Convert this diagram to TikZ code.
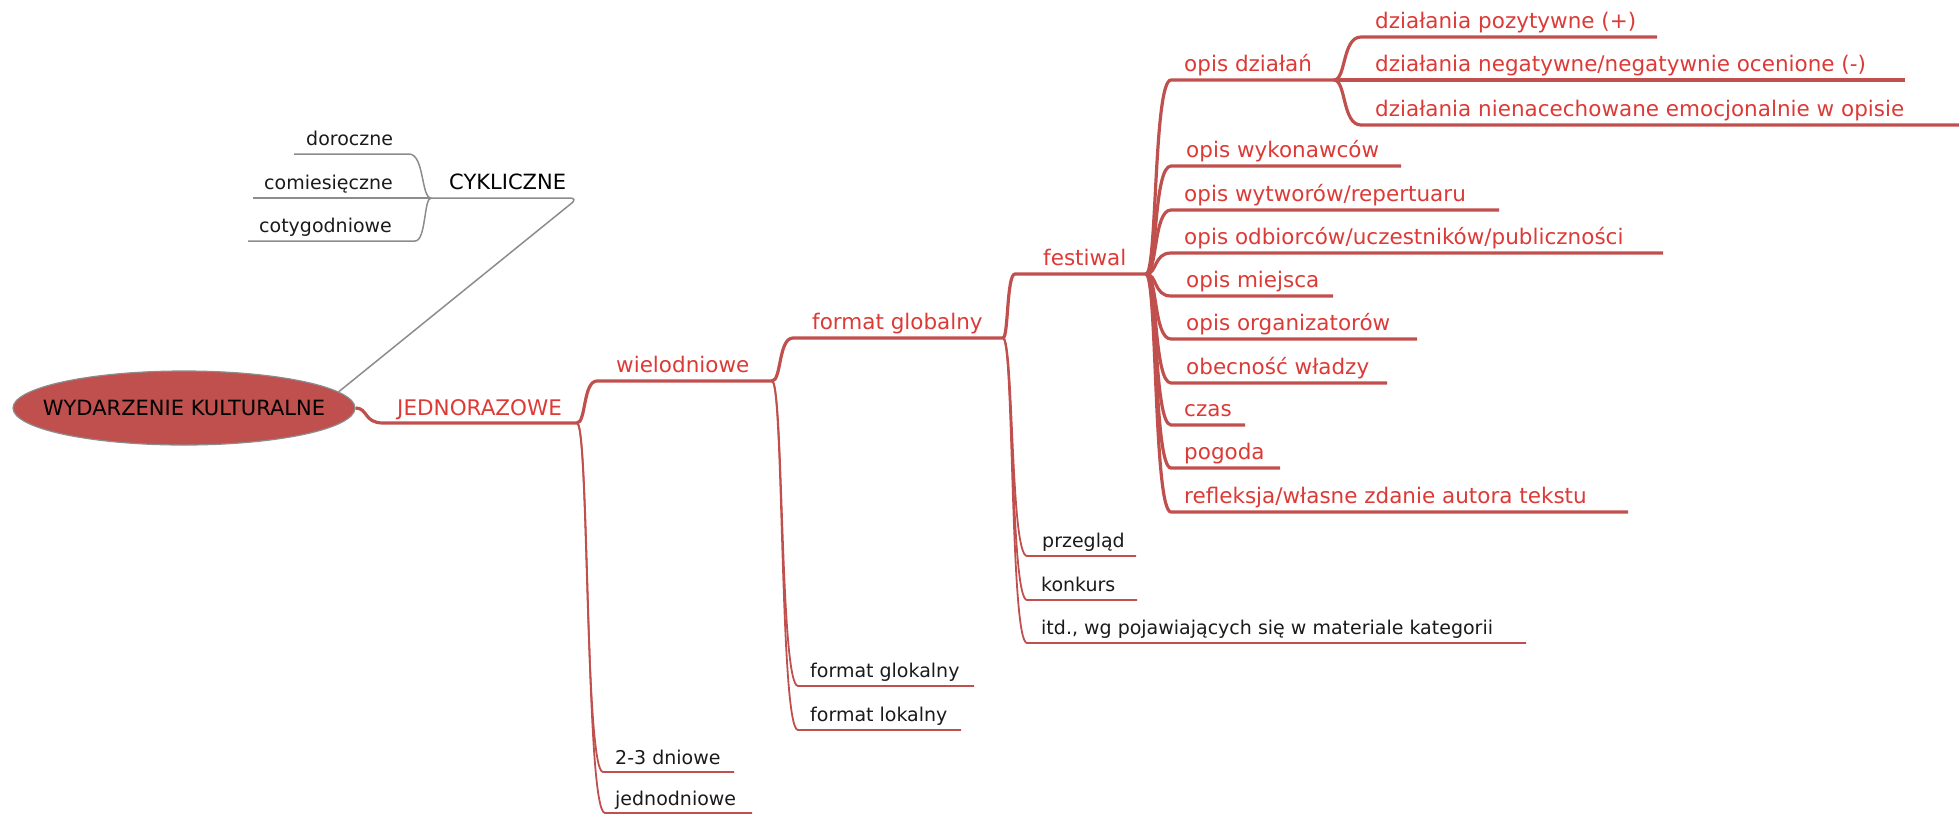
\documentclass[tikz,border=0pt]{standalone}
\usepackage{fontspec}
\setmainfont{DejaVu Sans}
\usetikzlibrary{calc,shapes.geometric}
\definecolor{lred}{HTML}{C0504D}
\definecolor{tred}{HTML}{DC3A36}
\definecolor{lgray}{HTML}{8C8C8C}
\definecolor{tblack}{HTML}{1A1A1A}
\tikzset{
  bigtxt/.style={font=\fontsize{21.5}{26}\selectfont, anchor=base west, inner sep=0pt, text=tred},
  smalltxt/.style={font=\fontsize{19}{23}\selectfont, anchor=base west, inner sep=0pt, text=tblack},
  redthick/.style={draw=lred, line width=3.2pt},
  redthin/.style={draw=lred, line width=1.8pt},
  grayline/.style={draw=lgray, line width=1.5pt},
}
\newcommand\branch[4]{\draw[#1] (#2) .. controls ($(#2)!0.45!(#2 -| #3)$) and ($(#2 |- #3)!0.3!(#3)$) .. (#3) -- (#4);}
\begin{document}
\begin{tikzpicture}[x=1pt,y=-1pt]
\useasboundingbox (0,0) rectangle (1959,815);
% root
\node[ellipse, fill=lred, draw=lgray, line width=1.2pt, minimum width=342pt, minimum height=74pt, inner sep=0pt] (root) at (184,408) {};
\node[font=\fontsize{21}{25}\selectfont, text=black, inner sep=0pt] (rootlbl) at (root.center) {WYDARZENIE KULTURALNE};

% CYKLICZNE branch
\node[bigtxt, text=black, font=\fontsize{21}{25}\selectfont] (cyk) at (449,189) {CYKLICZNE};
\coordinate (cykJ) at (431,198); \coordinate (cykE) at (578,198);
\draw[grayline, rounded corners=8pt] (cykJ) -- (cykE) -- (root.6);
\node[smalltxt] (dor) at (306,145) {doroczne};
\coordinate (dorS) at (294,154); \coordinate (dorE) at (409,154);
\node[smalltxt] (com) at (264,189) {comiesięczne};
\coordinate (comS) at (253,198);
\node[smalltxt] (cot) at (259,232) {cotygodniowe};
\coordinate (cotS) at (248,241); \coordinate (cotE) at (415,241);
\branch{grayline}{cykJ}{dorE}{dorS}
\draw[grayline] (cykJ) -- (comS);
\branch{grayline}{cykJ}{cotE}{cotS}

% JEDNORAZOWE
\node[bigtxt] (jed) at (397,415) {JEDNORAZOWE};
\coordinate (jedS) at (383,423); \coordinate (jedJ) at (577,423);
\branch{redthick}{root.east}{jedS}{jedJ}

\node[bigtxt] (wie) at (616,372) {wielodniowe};
\coordinate (wieS) at (597,381); \coordinate (wieJ) at (772,381);
\node[smalltxt] (dw) at (615,764) {2-3 dniowe};
\coordinate (dwS) at (603,772); \coordinate (dwE) at (734,772);
\node[smalltxt] (jd) at (615,805) {jednodniowe};
\coordinate (jdS) at (605,813); \coordinate (jdE) at (752,813);
\branch{redthick}{jedJ}{wieS}{wieJ}
\branch{redthin}{jedJ}{dwS}{dwE}
\branch{redthin}{jedJ}{jdS}{jdE}

\node[bigtxt] (fg) at (812,329) {format globalny};
\coordinate (fgS) at (793,338); \coordinate (fgJ) at (1003,338);
\node[smalltxt] (fgk) at (810,677) {format glokalny};
\coordinate (fgkS) at (798,686); \coordinate (fgkE) at (974,686);
\node[smalltxt] (fl) at (810,721) {format lokalny};
\coordinate (flS) at (798,730); \coordinate (flE) at (961,730);
\branch{redthick}{wieJ}{fgS}{fgJ}
\branch{redthin}{wieJ}{fgkS}{fgkE}
\branch{redthin}{wieJ}{flS}{flE}

\node[bigtxt] (fes) at (1043,265) {festiwal};
\coordinate (fesS) at (1015,274); \coordinate (fesJ) at (1146,274);
\node[smalltxt] (prz) at (1042,547) {przegląd};
\coordinate (przS) at (1027,556); \coordinate (przE) at (1136,556);
\node[smalltxt] (kon) at (1041,591) {konkurs};
\coordinate (konS) at (1027,600); \coordinate (konE) at (1137,600);
\node[smalltxt] (itd) at (1041,634) {itd., wg pojawiających się w materiale kategorii};
\coordinate (itdS) at (1027,643); \coordinate (itdE) at (1526,643);
\branch{redthick}{fgJ}{fesS}{fesJ}
\branch{redthin}{fgJ}{przS}{przE}
\branch{redthin}{fgJ}{konS}{konE}
\branch{redthin}{fgJ}{itdS}{itdE}

% festiwal children
\node[bigtxt] (od) at (1184,71) {opis działań};
\coordinate (odS) at (1171,80); \coordinate (odJ) at (1334,80);
\node[bigtxt] (ow) at (1186,157) {opis wykonawców};
\coordinate (owS) at (1171,166); \coordinate (owE) at (1401,166);
\node[bigtxt] (owr) at (1184,201) {opis wytworów/repertuaru};
\coordinate (owrS) at (1171,210); \coordinate (owrE) at (1499,210);
\node[bigtxt] (oo) at (1184,244) {opis odbiorców/uczestników/publiczności};
\coordinate (ooS) at (1171,253); \coordinate (ooE) at (1663,253);
\node[bigtxt] (om) at (1186,287) {opis miejsca};
\coordinate (omS) at (1171,296); \coordinate (omE) at (1333,296);
\node[bigtxt] (oorg) at (1186,330) {opis organizatorów};
\coordinate (oorgS) at (1171,339); \coordinate (oorgE) at (1417,339);
\node[bigtxt] (ob) at (1186,374) {obecność władzy};
\coordinate (obS) at (1171,383); \coordinate (obE) at (1387,383);
\node[bigtxt] (cz) at (1184,416) {czas};
\coordinate (czS) at (1171,425); \coordinate (czE) at (1245,425);
\node[bigtxt] (pg) at (1184,459) {pogoda};
\coordinate (pgS) at (1171,468); \coordinate (pgE) at (1280,468);
\node[bigtxt] (ref) at (1184,503) {refleksja/własne zdanie autora tekstu};
\coordinate (refS) at (1171,512); \coordinate (refE) at (1628,512);
\branch{redthick}{fesJ}{odS}{odJ}
\branch{redthick}{fesJ}{owS}{owE}
\branch{redthick}{fesJ}{owrS}{owrE}
\branch{redthick}{fesJ}{ooS}{ooE}
\branch{redthick}{fesJ}{omS}{omE}
\branch{redthick}{fesJ}{oorgS}{oorgE}
\branch{redthick}{fesJ}{obS}{obE}
\branch{redthick}{fesJ}{czS}{czE}
\branch{redthick}{fesJ}{pgS}{pgE}
\branch{redthick}{fesJ}{refS}{refE}

% opis działań children
\node[bigtxt] (dp) at (1375,28) {działania pozytywne (+)};
\coordinate (dpS) at (1361,37); \coordinate (dpE) at (1657,37);
\node[bigtxt] (dn) at (1375,71) {działania negatywne/negatywnie ocenione (-)};
\coordinate (dnE) at (1905,80);
\node[bigtxt] (dnn) at (1375,116) {działania nienacechowane emocjonalnie w opisie};
\coordinate (dnnS) at (1361,125); \coordinate (dnnE) at (1959,125);
\branch{redthick}{odJ}{dpS}{dpE}
\draw[redthick] (odJ) -- (dnE);
\branch{redthick}{odJ}{dnnS}{dnnE}
\end{tikzpicture}
\end{document}
